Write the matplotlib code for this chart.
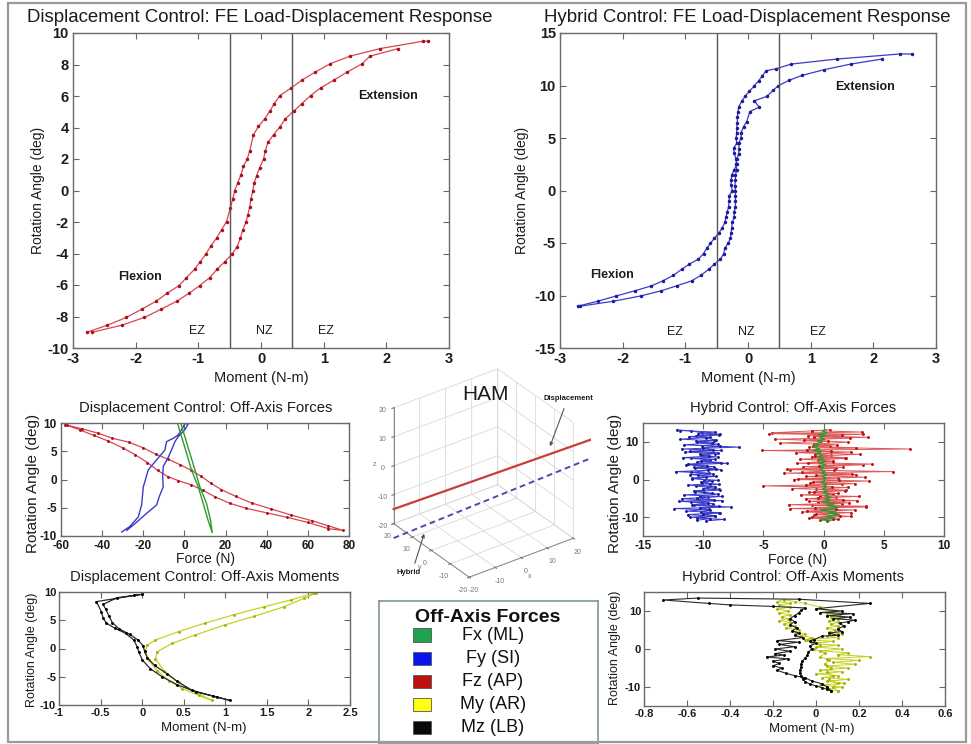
import matplotlib
matplotlib.use("Agg")
import matplotlib.pyplot as plt
from matplotlib.patches import Rectangle, FancyArrowPatch
from matplotlib.ticker import FuncFormatter

plt.rcParams['font.family'] = ['Liberation Sans', 'DejaVu Sans']
plt.rcParams['axes.unicode_minus'] = False
plt.rcParams['grid.color'] = '#d9d9d9'
plt.rcParams['grid.linewidth'] = 0.6

W, H = 971, 744

# ---- Displacement control, FE load-displacement (moment N-m, angle deg)
disp_fe_load_m = [-2.78, -2.45, -2.15, -1.90, -1.67, -1.50, -1.31, -1.19, -1.06, -0.97, -0.88, -0.80,
                  -0.71, -0.63, -0.55, -0.49, -0.45, -0.42, -0.37, -0.32, -0.28, -0.22, -0.18, -0.12,
                  -0.04, 0.06, 0.14, 0.21, 0.30, 0.48, 0.65, 0.86, 1.10, 1.42, 1.90, 2.59, 2.66]
disp_fe_load_a = [-9.0, -8.55, -8.06, -7.53, -7.02, -6.53, -6.04, -5.54, -5.0, -4.52, -4.03, -3.52,
                  -3.03, -2.5, -1.97, -1.12, -0.53, 0.0, 0.5, 1.0, 1.53, 2.0, 2.52, 3.54,
                  4.07, 4.56, 5.03, 5.51, 6.02, 6.51, 7.0, 7.51, 8.04, 8.53, 9.01, 9.48, 9.48]
disp_fe_unload_m = [2.19, 1.74, 1.61, 1.37, 1.16, 0.95, 0.79, 0.65, 0.52, 0.39, 0.30, 0.20, 0.11,
                    0.07, 0.04, -0.02, -0.07, -0.11, -0.13, -0.16, -0.18, -0.21, -0.24, -0.29,
                    -0.33, -0.38, -0.46, -0.58, -0.70, -0.82, -0.98, -1.15, -1.34, -1.59, -1.86,
                    -2.22, -2.69]
disp_fe_unload_a = [9.01, 8.53, 8.04, 7.51, 7.0, 6.51, 6.02, 5.51, 5.03, 4.56, 4.03, 3.54, 3.05,
                    2.52, 2.0, 1.46, 0.95, 0.47, 0.0, -0.53, -1.02, -1.55, -2.01, -2.5,
                    -3.03, -3.56, -4.03, -4.52, -5.0, -5.54, -6.04, -6.53, -7.02, -7.53, -8.06,
                    -8.55, -9.0]

# ---- Hybrid control, FE load-displacement
hyb_fe_load_m = [-2.72, -2.40, -2.10, -1.81, -1.54, -1.36, -1.19, -1.06, -0.94, -0.79, -0.71, -0.66,
                 -0.60, -0.54, -0.47, -0.41, -0.37, -0.35, -0.33, -0.31, -0.30, -0.30, -0.25, -0.27,
                 -0.27, -0.26, -0.22, -0.18, -0.19, -0.22, -0.23, -0.18, -0.19, -0.18, -0.18, -0.17,
                 -0.17, -0.16, -0.15, -0.10, -0.05, 0.02, 0.10, 0.17, 0.23, 0.29, 0.45, 0.69, 1.42,
                 2.42, 2.61]
hyb_fe_load_a = [-11.02, -10.55, -10.04, -9.56, -9.08, -8.61, -8.07, -7.52, -7.02, -6.53, -6.0, -5.52,
                 -5.04, -4.57, -4.09, -3.55, -3.04, -2.5, -2.02, -1.54, -1.0, -0.53, 0.0, 0.52,
                 1.0, 1.48, 1.96, 2.52, 3.0, 3.55, 4.02, 4.5, 4.98, 5.46, 5.93, 6.47,
                 6.98, 7.43, 7.94, 8.48, 8.96, 9.43, 9.97, 10.45, 10.93, 11.41, 11.6, 12.04, 12.52,
                 13.0, 13.0]
hyb_fe_unload_m = [2.14, 1.64, 1.21, 0.86, 0.65, 0.48, 0.40, 0.30, 0.10, 0.18, 0.03, -0.02, -0.07,
                   -0.11, -0.11, -0.15, -0.14, -0.15, -0.18, -0.19, -0.18, -0.20, -0.20, -0.21,
                   -0.20, -0.20, -0.20, -0.20, -0.22, -0.22, -0.25, -0.26, -0.27, -0.28, -0.32,
                   -0.37, -0.39, -0.44, -0.54, -0.63, -0.75, -0.90, -1.14, -1.39, -1.71, -2.15, -2.68]
hyb_fe_unload_a = [12.52, 12.04, 11.5, 10.96, 10.48, 9.97, 9.53, 8.96, 8.54, 7.94, 7.52, 6.57, 6.09,
                   5.52, 4.98, 4.5, 3.96, 3.48, 2.97, 2.5, 1.96, 1.48, 1.0, 0.46,
                   0.0, -0.53, -1.0, -1.54, -2.02, -2.5, -3.04, -3.55, -4.04, -4.57, -5.04,
                   -5.52, -6.05, -6.53, -7.04, -7.52, -8.07, -8.61, -9.08, -9.56, -10.04, -10.55, -11.02]

# ---- Displacement control, off-axis forces (N)
disp_fz_x = [-58, -50, -42, -35, -27, -20, -14, -8, -2, 3, 8, 13, 18, 25, 33, 42, 52, 62, 70, 77,
             70, 60, 50, 40, 30, 22, 15, 9, 3, -3, -8, -13, -18, -24, -30, -37, -44, -51, -57]
disp_fz_y = [9.7, 9.0, 8.2, 7.3, 6.6, 5.6, 4.5, 3.6, 2.6, 1.7, 0.6, -0.7, -1.8, -3.0, -4.2, -5.2,
             -6.3, -7.3, -8.2, -9.0,
             -8.7, -7.6, -6.7, -5.9, -5.1, -4.2, -3.1, -1.9, -0.9, -0.2, 0.5, 1.6, 3.0, 4.4, 5.6,
             6.8, 7.8, 8.8, 9.6]
disp_fy_x = [-30.5, -26.5, -22.4, -20.8, -20.0, -19.0, -17.6, -13.5, -9.5, -8.7, -5.4, -3.0, -0.9,
             0.2, 1.8, 0.2, -3.0, -4.6, -6.3, -7.9, -10.3, -10.6, -10.3, -12.2, -13.5, -18.4,
             -24.0, -28.0]
disp_fy_y = [-9.3, -8.3, -6.6, -4.5, -1.3, -0.1, 1.7, 3.5, 5.2, 6.7, 7.3, 7.9, 9.1, 9.9, 9.8, 8.8,
             7.6, 6.7, 5.2, 3.9, 2.3, 0.5, -1.3, -3.0, -4.5, -6.0, -7.8, -9.0]
disp_fx_x = [-3.3, -1.4, 1.0, 3.4, 6.7, 9.1, 11.5, 13.5, 12.7, 10.7, 7.5, 5.1, 2.6, 0.2, -1.7]
disp_fx_y = [9.9, 7.6, 4.7, 1.7, -1.3, -4.2, -7.2, -9.4, -7.2, -4.2, -1.3, 1.7, 4.7, 7.6, 9.9]

# ---- Displacement control, off-axis moments (N-m)
disp_mz_x = [0.0, -0.55, -0.49, -0.47, -0.43, -0.33, -0.2, -0.1, -0.06, -0.04, 0.0, 0.1, 0.24,
             0.42, 0.65, 0.9, 1.06, 0.85, 0.6, 0.42, 0.3, 0.15, 0.06, 0.03, 0.01, -0.05, -0.15,
             -0.28, -0.36, -0.4, -0.44, -0.47, -0.3, -0.1, 0.0]
disp_mz_y = [9.6, 8.3, 6.5, 5.4, 4.5, 3.6, 2.7, 1.5, 0.3, -0.6, -2.0, -3.6, -5.0, -6.4, -7.7,
             -8.6, -9.2, -8.4, -7.4, -5.8, -4.5, -3.0, -1.6, -0.5, 0.5, 1.5, 2.5, 3.5, 4.6,
             5.8, 7.0, 7.8, 9.0, 9.4, 9.6]
disp_my_x = [2.07, 1.79, 1.47, 1.11, 0.76, 0.44, 0.16, 0.06, 0.04, 0.08, 0.18, 0.32, 0.48, 0.68,
             0.84, 0.63, 0.44, 0.26, 0.16, 0.18, 0.36, 0.64, 1.0, 1.35, 1.71, 1.95, 2.09]
disp_my_y = [9.8, 8.6, 7.4, 6.0, 4.5, 3.0, 1.5, 0.6, -0.6, -2.1, -3.9, -5.7, -7.1, -8.3, -9.2,
             -7.7, -6.0, -3.9, -1.8, -0.6, 0.9, 2.4, 4.2, 5.7, 7.4, 8.9, 9.8]

# ---- Hybrid control, off-axis forces (N): upward sweep then return sweep
hyb_angle_up = [-11.0, -10.6, -10.2, -9.8, -9.3, -8.9, -8.6, -8.1, -7.7, -7.3, -6.9, -6.4, -6.0,
                -5.6, -5.1, -4.7, -4.3, -3.9, -3.4, -3.0, -2.6, -2.1, -1.7, -1.3, -0.8, -0.4, 0.0,
                0.4, 0.8, 1.3, 1.7, 2.1, 2.6, 3.0, 3.4, 3.9, 4.3, 4.7, 5.2, 5.6, 6.0, 6.4, 6.9,
                7.3, 7.7, 8.1, 8.6, 9.0, 9.4, 9.9, 10.3, 10.7, 11.2, 11.6, 12.0, 12.4, 12.9, 13.2]
hyb_fy_up = [-9.8, -8.3, -10.5, -9.0, -11.3, -8.7, -10.2, -9.4, -12.4, -7.7, -10.8, -9.2, -11.0,
             -8.4, -11.8, -9.6, -10.3, -8.8, -9.9, -10.8, -8.7, -9.6, -10.6, -8.7, -10.1, -9.3, -9.9,
             -10.9, -8.9, -11.1, -9.5, -12.3, -8.5, -10.7, -9.1, -11.4, -8.0, -10.5, -9.4, -11.0,
             -8.8, -10.2, -9.0, -11.5, -8.5, -11.8, -7.0, -10.1, -8.8, -10.5, -9.1, -11.9, -9.4,
             -10.6, -8.6, -10.1, -11.0, -12.2]
hyb_fz_up = [0.3, 1.2, -1.2, 2.3, -0.8, 1.0, -1.8, 2.6, -2.8, 3.5, -1.0, 1.5, -0.5, 2.8, -1.5, 1.0,
             -0.3, 0.8, -1.2, 1.8, -0.6, 2.0, -5.0, 1.5, -1.1, 3.8, -2.5, 1.2, -1.5, 2.7, -3.3, 5.8,
             -2.8, 1.0, -1.7, 3.3, -2.2, 0.8, -0.5, 1.8, -1.0, 0.6, -0.7, 2.3, -5.1, 7.2, -1.2, 0.5,
             -0.8, 2.0, -0.2, -4.0, 3.7, -1.3, 3.3, -4.3, -1.0, 0.5]
hyb_fx_up = [0.5, -0.3, 1.0, 0.2, 1.3, 0.4, 1.0, -0.3, 0.8, 1.2, 0.3, 0.9, -0.1, 0.5, 0.2, 0.6, 0.1,
             0.4, 0.0, 0.3, -0.1, 0.2, 0.0, 0.3, -0.2, 0.1, 0.0, 0.2, -0.1, 0.3, -0.2, 0.1, -0.3,
             0.0, -0.2, 0.2, -0.4, 0.1, -0.3, 0.0, -0.5, -0.1, -0.6, -0.2, -0.8, -0.3, -0.9, -0.4,
             -0.7, -0.2, -0.5, 0.1, -0.3, 0.2, -0.4, 0.3, -0.1, 0.2]
hyb_angle_down = [13.0, 12.6, 12.2, 11.8, 11.4, 11.0, 10.5, 10.1, 9.7, 9.2,
                  8.8, 8.4, 7.9, 7.5, 7.1, 6.7, 6.2, 5.8, 5.4, 4.9,
                  4.5, 4.1, 3.6, 3.2, 2.8, 2.4, 1.9, 1.5, 1.1, 0.6,
                  0.2, -0.2, -0.6, -1.1, -1.5, -1.9, -2.4, -2.8, -3.2, -3.7,
                  -4.1, -4.5, -4.9, -5.4, -5.8, -6.2, -6.7, -7.1, -7.5, -7.9,
                  -8.4, -8.8, -9.2, -9.6, -10.0, -10.4, -10.8]
hyb_fy_down = [-11.9, -9.0, -10.4, -8.7, -11.2, -9.8, -8.9, -10.6, -9.3, -11.6,
               -8.6, -10.0, -9.2, -11.1, -8.8, -10.3, -9.5, -11.7, -9.0, -10.2,
               -8.5, -11.3, -9.7, -10.8, -8.9, -9.6, -11.0, -9.2, -10.4, -9.8,
               -10.9, -8.8, -10.2, -9.4, -11.3, -9.0, -10.0, -8.6, -10.7, -9.3,
               -11.6, -8.4, -10.5, -9.1, -12.0, -9.6, -10.9, -8.7, -10.3, -9.5,
               -11.4, -8.6, -10.0, -9.0, -11.1, -9.4, -10.5]
hyb_fz_down = [-1.0, 3.2, -4.5, 1.5, -0.8, 2.2, -1.6, 0.4, -3.6, 1.1,
               -0.9, 2.7, -1.4, 0.6, -2.3, 3.0, -0.7, 1.9, -2.0, 0.8,
               -1.3, 4.0, -0.4, 1.6, -3.0, 0.9, -1.8, 2.4, -0.6, 3.4,
               -2.1, 1.3, -0.9, 2.6, -1.5, 0.7, -2.6, 1.9, -0.8, 1.2,
               -1.9, 2.9, -0.5, 1.6, -1.2, 2.1, -2.9, 3.5, -0.7, 1.0,
               -1.4, 2.3, -0.6, 1.4, -1.0, 0.8, -0.3]

# ---- Hybrid control, off-axis moments (N-m)
hyb_mz_x = [0.07, 0.05, 0.03, 0.0, -0.03, -0.05, -0.06, -0.07, -0.075, -0.075, -0.07, -0.07,
            -0.065, -0.05, -0.04, -0.035, -0.02, -0.03, 0.0, -0.03, -0.01, 0.03, 0.1, 0.06, 0.12,
            0.1, 0.13, 0.11, 0.15, 0.18, 0.08, 0.16, 0.05, 0.17, 0.02, 0.12, 0.0, 0.25, -0.08,
            -0.55, -0.71, -0.5, -0.4, -0.2, -0.05, -0.07, -0.08, -0.1, -0.12, -0.1, -0.12, -0.09,
            -0.11, -0.08, -0.1, -0.06, -0.18, -0.08, -0.17, -0.1, -0.19, -0.12, -0.19, -0.15,
            -0.23, -0.13, -0.2, -0.17, -0.2, -0.16, -0.18, -0.14, -0.1, -0.05, -0.02, 0.03, 0.05,
            0.07]
hyb_mz_y = [-11.0, -10.6, -10.2, -9.7, -9.2, -8.6, -8.0, -7.2, -6.4, -5.6, -4.8, -4.0, -3.2, -2.4,
            -1.6, -0.8, 0.0, 0.8, 1.5, 2.0, 2.5, 3.4, 3.6, 4.2, 4.6, 5.3, 6.0, 6.8, 7.2, 7.6, 8.0,
            8.4, 8.8, 9.3, 9.6, 10.0, 10.6, 12.0, 13.1, 13.4, 12.9, 12.0, 11.6, 11.2, 10.8, 10.2,
            9.5, 8.8, 8.0, 7.2, 6.4, 5.6, 4.8, 4.2, 3.6, 3.0, 2.2, 1.8, 1.2, 0.6, 0.0, -0.6, -1.2,
            -1.6, -2.1, -2.6, -3.2, -3.8, -4.4, -5.0, -5.6, -6.4, -7.0, -7.6, -8.4, -9.2, -10.0,
            -11.0]
hyb_my_x = [0.1, 0.05, 0.12, 0.02, 0.13, 0.05, 0.15, 0.03, 0.1, 0.0, 0.12, 0.02, 0.15, 0.05, 0.18,
            0.08, 0.2, 0.05, 0.25, 0.1, 0.15, 0.02, 0.12, 0.0, 0.1, -0.02, 0.08, -0.05, 0.1, 0.05,
            0.12, 0.06, 0.09, 0.05, 0.1, 0.07, 0.1, 0.06, 0.1, 0.07, 0.11, 0.05, 0.08, 0.0, 0.02,
            -0.05, -0.1, -0.15, -0.18, -0.12, -0.17, -0.12, -0.18, -0.13, -0.17, -0.12, -0.16,
            -0.13, -0.17, -0.12, -0.15, -0.1, -0.14, -0.08, -0.1, -0.05, -0.07, -0.02, -0.04, 0.02,
            -0.01, 0.04, 0.02, 0.06, 0.04, 0.07, 0.05, 0.08, 0.06, 0.1, 0.08, 0.1]
hyb_my_y = [-11.0, -10.5, -10.0, -9.5, -9.0, -8.5, -8.0, -7.5, -7.0, -6.5, -6.0, -5.5, -5.0, -4.5,
            -4.0, -3.5, -3.0, -2.5, -2.0, -1.5, -1.0, -0.5, 0.0, 0.5, 1.0, 1.5, 2.0, 2.5, 3.0, 3.5,
            4.0, 4.5, 5.0, 5.5, 6.0, 6.5, 7.0, 7.5, 8.0, 8.5, 9.0, 9.5, 10.0, 10.5, 11.0, 12.0,
            12.5, 13.0, 12.5, 12.0, 11.5, 11.0, 10.5, 10.0, 9.5, 9.0, 8.5, 8.0, 7.5, 7.0, 6.5, 6.0,
            5.5, 5.0, 4.5, 4.0, 3.5, 3.0, 2.5, 1.0, 0.0, -1.0, -2.0, -3.0, -4.0, -5.0, -6.0, -7.0,
            -8.0, -9.0, -10.0, -11.0]

# ---- HAM 3-D sketch: two straight paths (x, y, z)
ham_disp_x = [-20, 29]
ham_disp_y = [20, -29]
ham_disp_z = [-15, 18]
ham_hyb_x = [-20, 29]
ham_hyb_y = [20, -29]
ham_hyb_z = [-25, 12]

legend_labels = ['Fx (ML)', 'Fy (SI)', 'Fz (AP)', 'My (AR)', 'Mz (LB)']
legend_colors = ['#1fa34f', '#0a14f0', '#c01010', '#ffff10', '#0a0a0a']

RED, RED_DOT = '#d9464e', '#a8101c'
BLUE, BLUE_DOT = '#3a3acb', '#1c1c9a'
GREEN = '#2f9a2f'
YELLOW = '#c5d21e'
BLACK = '#2a2a2a'
TXT = '#1c1c1c'

fig = plt.figure(figsize=(W / 100, H / 100), dpi=100)


def px_axes(l, t, r, b, **kw):
    return fig.add_axes([l / W, 1 - b / H, (r - l) / W, (b - t) / H], **kw)


def ftext(x, y, s, **kw):
    kw.setdefault('ha', 'center')
    kw.setdefault('va', 'center')
    kw.setdefault('color', TXT)
    fig.text(x / W, 1 - y / H, s, **kw)


def style(ax, xlim, ylim, xticks, yticks, fs, pad=3):
    ax.set_xlim(*xlim)
    ax.set_ylim(*ylim)
    ax.set_xticks(xticks)
    ax.set_yticks(yticks)
    fmt = FuncFormatter(lambda v, p: f'{v:g}')
    ax.xaxis.set_major_formatter(fmt)
    ax.yaxis.set_major_formatter(fmt)
    ax.tick_params(direction='in', top=True, right=True, length=4, width=0.8,
                   color='#666666', labelsize=fs, labelcolor=TXT, pad=pad)
    for lab in ax.get_xticklabels() + ax.get_yticklabels():
        lab.set_fontweight('bold')
    for s in ax.spines.values():
        s.set_color('#6a6a6a')
        s.set_linewidth(1.0)


def loop(ax, x, y, col, dot, ms=3, lw=0.9):
    ax.plot(x, y, '-', color=col, lw=lw, marker='.', ms=ms, mfc=dot, mec=dot)


# ---------------- top left
ax = px_axes(73, 33, 449, 348)
loop(ax, disp_fe_load_m, disp_fe_load_a, RED, RED_DOT)
loop(ax, disp_fe_unload_m, disp_fe_unload_a, RED, RED_DOT)
for xv in (-0.5, 0.5):
    ax.axvline(xv, color='#555555', lw=1.0)
style(ax, (-3, 3), (-10, 10), [-3, -2, -1, 0, 1, 2, 3], list(range(-10, 11, 2)), 10.5)
ax.text(-1.93, -5.5, 'Flexion', fontsize=9, weight='bold', ha='center', va='center', color=TXT)
ax.text(2.03, 6.0, 'Extension', fontsize=9, weight='bold', ha='center', va='center', color=TXT)
for xv, s in ((-1.02, 'EZ'), (0.05, 'NZ'), (1.04, 'EZ')):
    ax.text(xv, -8.9, s, fontsize=9, ha='center', va='center', color=TXT)
ftext(260, 17, 'Displacement Control: FE Load-Displacement Response', fontsize=13.4)
ftext(261, 378, 'Moment (N-m)', fontsize=10.5)
ftext(38, 190, 'Rotation Angle (deg)', fontsize=10, rotation=90)

# ---------------- top right
ax = px_axes(560, 33, 936, 348)
loop(ax, hyb_fe_load_m, hyb_fe_load_a, BLUE, BLUE_DOT)
loop(ax, hyb_fe_unload_m, hyb_fe_unload_a, BLUE, BLUE_DOT)
for xv in (-0.5, 0.5):
    ax.axvline(xv, color='#555555', lw=1.0)
style(ax, (-3, 3), (-15, 15), [-3, -2, -1, 0, 1, 2, 3], list(range(-15, 16, 5)), 10.5)
ax.text(-2.17, -8.0, 'Flexion', fontsize=9, weight='bold', ha='center', va='center', color=TXT)
ax.text(1.87, 9.9, 'Extension', fontsize=9, weight='bold', ha='center', va='center', color=TXT)
for xv, s in ((-1.16, 'EZ'), (-0.02, 'NZ'), (1.12, 'EZ')):
    ax.text(xv, -13.5, s, fontsize=9, ha='center', va='center', color=TXT)
ftext(747, 17, 'Hybrid Control: FE Load-Displacement Response', fontsize=13.4)
ftext(748, 378, 'Moment (N-m)', fontsize=10.5)
ftext(522, 190, 'Rotation Angle (deg)', fontsize=10, rotation=90)

# ---------------- middle left: displacement off-axis forces
ax = px_axes(61, 423, 349, 536)
loop(ax, disp_fz_x, disp_fz_y, RED, RED_DOT, ms=2.2)
ax.plot(disp_fy_x, disp_fy_y, '-', color=BLUE, lw=1.0)
ax.plot(disp_fx_x, disp_fx_y, '-', color=GREEN, lw=1.0)
style(ax, (-60, 80), (-10, 10), list(range(-60, 81, 20)), [-10, -5, 0, 5, 10], 8.5)
ftext(206, 408, 'Displacement Control: Off-Axis Forces', fontsize=10.7)
ftext(205, 559, 'Force (N)', fontsize=10)
ftext(33, 483, 'Rotation Angle (deg)', fontsize=11, rotation=90)

# ---------------- middle right: hybrid off-axis forces
ax = px_axes(643, 423, 944, 536)
loop(ax, hyb_fy_up, hyb_angle_up, BLUE, BLUE_DOT, ms=2.2, lw=0.7)
loop(ax, hyb_fy_down, hyb_angle_down, BLUE, BLUE_DOT, ms=2.2, lw=0.7)
loop(ax, hyb_fz_up, hyb_angle_up, '#dc5a5a', '#c01010', ms=2.2, lw=0.7)
loop(ax, hyb_fz_down, hyb_angle_down, '#dc5a5a', '#c01010', ms=2.2, lw=0.7)
ax.plot(hyb_fx_up, hyb_angle_up, '-', color=GREEN, lw=1.0)
style(ax, (-15, 10), (-15, 15), [-15, -10, -5, 0, 5, 10], [-10, 0, 10], 8.5)
ftext(793, 408, 'Hybrid Control: Off-Axis Forces', fontsize=10.7)
ftext(797, 560, 'Force (N)', fontsize=10)
ftext(615, 483, 'Rotation Angle (deg)', fontsize=11, rotation=90)

# ---------------- bottom left: displacement off-axis moments
ax = px_axes(59, 592, 350, 705)
loop(ax, disp_my_x, disp_my_y, YELLOW, '#a6b010', ms=2.2)
loop(ax, disp_mz_x, disp_mz_y, BLACK, '#000000', ms=2.2)
style(ax, (-1, 2.5), (-10, 10), [-1, -0.5, 0, 0.5, 1, 1.5, 2, 2.5], [-10, -5, 0, 5, 10], 8,
      pad=2)
ftext(205, 577, 'Displacement Control: Off-Axis Moments', fontsize=10.7)
ftext(204, 728, 'Moment (N-m)', fontsize=9.5)
ftext(32, 650, 'Rotation Angle (deg)', fontsize=9, rotation=90)

# ---------------- bottom right: hybrid off-axis moments
ax = px_axes(644, 592, 945, 706)
loop(ax, hyb_my_x, hyb_my_y, YELLOW, '#a6b010', ms=2.2, lw=0.7)
loop(ax, hyb_mz_x, hyb_mz_y, BLACK, '#000000', ms=2.2, lw=0.8)
style(ax, (-0.8, 0.6), (-15, 15), [-0.8, -0.6, -0.4, -0.2, 0, 0.2, 0.4, 0.6], [-10, 0, 10], 8,
      pad=2)
ftext(793, 577, 'Hybrid Control: Off-Axis Moments', fontsize=10.7)
ftext(812, 729, 'Moment (N-m)', fontsize=9.5)
ftext(615, 648, 'Rotation Angle (deg)', fontsize=9, rotation=90)

# ---------------- centre: HAM 3-D sketch
ax3 = px_axes(366, 366, 595, 586, projection='3d')
ax3.set_proj_type('ortho')
ax3.view_init(elev=31, azim=-126)
ax3.set_box_aspect((1, 1, 1.05))
ax3.patch.set_alpha(0)
for a in (ax3.xaxis, ax3.yaxis, ax3.zaxis):
    a.set_pane_color((1, 1, 1, 0))
    a.line.set_color('#888888')
    a.line.set_linewidth(0.7)
ax3.set_xlim(-20, 20)
ax3.set_ylim(-20, 20)
ax3.set_zlim(-20, 20)
ax3.set_xticks([-20, -10, 0, 10, 20])
ax3.set_yticks([-20, -10, 0, 10, 20])
ax3.set_zticks([-20, -10, 0, 10, 20])
ax3.tick_params(labelsize=5, colors='#777777', pad=-3)
ax3.set_xlabel('x', fontsize=5, color='#777777', labelpad=-12)
ax3.set_ylabel('y', fontsize=5, color='#777777', labelpad=-12)
ax3.set_zlabel('z', fontsize=5, color='#777777', labelpad=-12)
ax3.plot(ham_disp_x, ham_disp_y, ham_disp_z, '-', color='#c83c3c', lw=1.6)
ax3.plot(ham_hyb_x, ham_hyb_y, ham_hyb_z, '--', color='#4a4ab0', lw=1.4, dashes=(3, 2))
ftext(485, 395, 'HAM', fontsize=15)
fig.add_artist(FancyArrowPatch(
    (565 / W, 1 - 406 / H), (549 / W, 1 - 449 / H), transform=fig.transFigure,
    arrowstyle='-|>', mutation_scale=5, color='#555555', lw=0.8))
ftext(568, 399, 'Displacement', fontsize=5.5, weight='bold')
fig.add_artist(FancyArrowPatch(
    (414 / W, 1 - 566 / H), (425 / W, 1 - 531 / H), transform=fig.transFigure,
    arrowstyle='-|>', mutation_scale=5, color='#555555', lw=0.8))
ftext(409, 572, 'Hybrid', fontsize=5.5, weight='bold')

# ---------------- legend box
axl = px_axes(379, 601, 598, 743)
axl.set_xticks([])
axl.set_yticks([])
axl.set_xlim(0, 1)
axl.set_ylim(0, 1)
for s in axl.spines.values():
    s.set_color('#7d9699')
    s.set_linewidth(1.2)
axl.text(0.498, 0.887, 'Off-Axis Forces', fontsize=14, weight='bold', ha='center', va='center',
         color='#111111')
for i, (lab, col) in enumerate(zip(legend_labels, legend_colors)):
    yc = (743 - (635 + 23.2 * i)) / 142
    axl.add_patch(Rectangle((0.155, yc - 0.046), 0.082, 0.092, facecolor=col,
                            edgecolor='#555555', lw=0.6))
    axl.text(0.52, yc, lab, fontsize=13, ha='center', va='center', color='#111111')

# outer frame
fig.add_artist(Rectangle((8 / W, 1 - 742 / H), 958 / W, 739 / H, transform=fig.transFigure,
                         fill=False, ec='#9a9a9a', lw=1.6))

fig.savefig('out.png', dpi=100)
